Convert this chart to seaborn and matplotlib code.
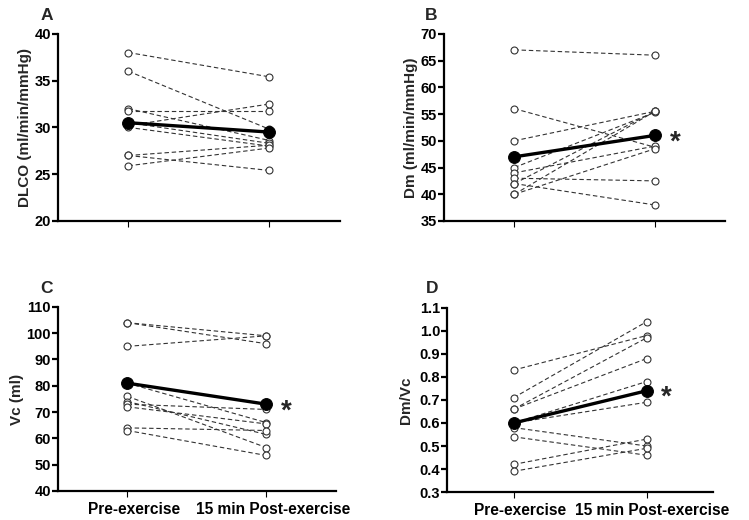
import matplotlib
matplotlib.use("Agg")
import matplotlib.pyplot as plt
import numpy as np
import pandas as pd
import seaborn as sns

# values, one entry per subject (10 subjects)
time_labels = ["Pre-exercise", "15 min Post-exercise"]

dlco_pre = [38.0, 36.0, 32.0, 31.7, 30.5, 30.2, 30.0, 27.0, 27.0, 25.9]
dlco_post = [35.4, 29.8, 28.6, 31.7, 28.3, 32.5, 28.0, 28.1, 25.4, 27.8]
dlco_mean = [30.5, 29.5]

dm_pre = [67.0, 56.0, 50.0, 45.0, 44.0, 43.0, 42.0, 42.0, 40.0, 40.0]
dm_post = [66.0, 48.8, 55.5, 55.3, 49.0, 42.5, 38.0, 55.5, 55.5, 48.5]
dm_mean = [47.0, 51.0]

vc_pre = [104.0, 104.0, 95.0, 81.0, 76.0, 74.0, 73.0, 72.0, 64.0, 63.0]
vc_post = [99.0, 96.0, 99.0, 66.0, 56.5, 61.5, 71.0, 65.5, 63.0, 53.5]
vc_mean = [81.0, 73.0]

ratio_pre = [0.83, 0.71, 0.66, 0.66, 0.60, 0.60, 0.58, 0.54, 0.42, 0.39]
ratio_post = [0.98, 1.04, 0.97, 0.88, 0.78, 0.69, 0.50, 0.46, 0.53, 0.49]
ratio_mean = [0.60, 0.74]

sns.set_theme(style="ticks")
plt.rcParams["font.family"] = ["Liberation Sans", "DejaVu Sans"]
plt.rcParams["font.weight"] = "bold"
plt.rcParams["axes.labelweight"] = "bold"

fig = plt.figure(figsize=(7.49, 5.2), dpi=100)

panels = [
    ("A", dlco_pre, dlco_post, dlco_mean, "DLCO (ml/min/mmHg)", (20, 40), 5, "{:.0f}", False, False,
     [0.0774, 0.575, 0.3765, 0.36], (41, 20), 2),
    ("B", dm_pre, dm_post, dm_mean, "Dm (ml/min/mmHg)", (35, 70), 5, "{:.0f}", False, True,
     [0.593, 0.575, 0.375, 0.36], (425, 20), 2),
    ("C", vc_pre, vc_post, vc_mean, "Vc (ml)", (40, 110), 10, "{:.0f}", True, True,
     [0.0774, 0.0558, 0.371, 0.354], (40, 293), 2),
    ("D", ratio_pre, ratio_post, ratio_mean, "Dm/Vc", (0.3, 1.1), 0.1, "{:.1f}", True, True,
     [0.597, 0.0538, 0.355, 0.354], (426, 293), 5),
]

for letter, pre, post, mean, ylabel, ylim, step, fmt, show_x, star, rect, letter_xy, pad in panels:
    ax = fig.add_axes(rect)
    n = len(pre)
    df = pd.DataFrame({
        "subject": list(range(n)) * 2,
        "time": [0] * n + [1] * n,
        "value": list(pre) + list(post),
    })
    sns.lineplot(data=df, x="time", y="value", units="subject", estimator=None, ax=ax,
                 color="#333333", lw=0.8, linestyle=(0, (4, 2.5)), marker="o", markersize=5,
                 markerfacecolor="white", markeredgecolor="#333333", markeredgewidth=0.8)
    mean_df = pd.DataFrame({"time": [0, 1], "value": mean})
    sns.lineplot(data=mean_df, x="time", y="value", ax=ax, color="black", lw=2.4,
                 marker="o", markersize=8.5, markerfacecolor="black", markeredgecolor="black")
    if star:
        ax.annotate("*", xy=(1, mean[1]), xytext=(20, -7), textcoords="offset pixels",
                    ha="center", va="center", fontsize=20, fontweight="bold")

    ax.set_xlim(-0.5, 1.5)
    ax.set_ylim(*ylim)
    ticks = np.arange(ylim[0], ylim[1] + step / 2, step)
    ax.set_yticks(ticks)
    ax.set_yticklabels([fmt.format(t) for t in ticks], fontsize=10.5, fontweight="bold")
    ax.set_xticks([0, 1])
    ax.set_xticklabels(["", ""])
    if show_x:
        # category names sit slightly right of their tick marks in the original
        ax.set_xticks([0.045, 1.045], minor=True)
        ax.set_xticklabels(time_labels, minor=True, fontsize=11.2, fontweight="bold")
        ax.tick_params(axis="x", which="minor", length=0, pad=8, colors="black")
    ax.set_xlabel("")
    ax.set_ylabel(ylabel, fontsize=11, fontweight="bold", labelpad=pad)
    sns.despine(ax=ax)
    for side in ("left", "bottom"):
        ax.spines[side].set_linewidth(1.6)
        ax.spines[side].set_color("black")
    ax.tick_params(axis="y", length=4, width=1.6, pad=1, colors="black")
    ax.tick_params(axis="x", which="major", length=4, width=0.8, pad=4, colors="black")
    fig.text(letter_xy[0] / 749, 1 - letter_xy[1] / 520, letter, fontsize=12.5,
             fontweight="bold", ha="left", va="baseline")

fig.savefig("out.png", dpi=100)
